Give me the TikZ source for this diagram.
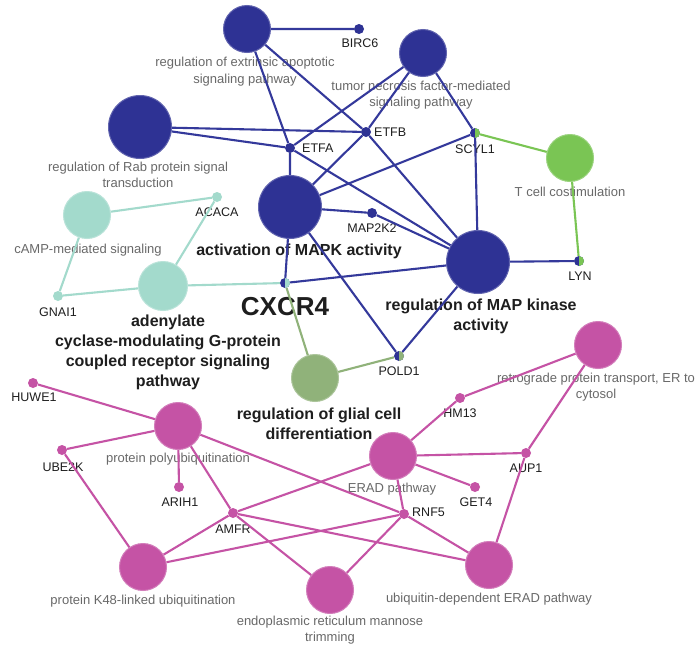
\documentclass[tikz,border=0pt]{standalone}
\usepackage{fontspec}
\setmainfont{Liberation Sans}
\definecolor{cblue}{RGB}{46,50,148}
\definecolor{cblueE}{RGB}{52,57,155}
\definecolor{cgreen}{RGB}{122,197,84}
\definecolor{cteal}{RGB}{163,218,204}
\definecolor{colive}{RGB}{144,178,122}
\definecolor{cmag}{RGB}{197,83,165}
\definecolor{cgray}{RGB}{105,105,105}
\definecolor{ctext}{RGB}{30,30,30}
\pgfdeclarelayer{bg}
\pgfdeclarelayer{lab}
\pgfdeclarelayer{edge}
\pgfsetlayers{bg,lab,edge,main}
\tikzset{
  big/.style={circle, inner sep=0pt, minimum size=47pt, fill=#1, draw=#1!75!white, line width=1pt},
  huge/.style={big=#1, minimum size=63pt},
  gene/.style={circle, inner sep=0pt, minimum size=10pt, fill=#1},
  halves/.style 2 args={circle, inner sep=0pt, minimum size=10pt, fill=#1,
    path picture={\fill[#2] (path picture bounding box.north) rectangle (path picture bounding box.south east);}},
  glab/.style={text=ctext, font=\fontsize{12.5}{14}\selectfont, inner sep=0pt},
  tlab/.style={text=cgray, font=\fontsize{13}{16.5}\selectfont, align=center, inner sep=0pt},
  blab/.style={text=ctext, font=\fontsize{16}{20}\selectfont\bfseries, align=center, inner sep=0pt},
  edgeline/.style={draw=#1, line width=2.1pt},
}
\begin{document}
\begin{tikzpicture}[x=1pt, y=-1pt]
\begin{pgfonlayer}{bg}
\useasboundingbox[fill=white] (0,0) rectangle (696,648);
\end{pgfonlayer}
% ---------- nodes ----------
% blue cluster
\node[big=cblue] (A1) at (247,29) {};
\node[gene=cblue] (BIRC6) at (359,29) {};
\node[big=cblue] (A2) at (423,53) {};
\node[huge=cblue] (A3) at (140,127) {};
\node[gene=cblue] (ETFA) at (290,148) {};
\node[gene=cblue] (ETFB) at (366,132) {};
\node[halves={cblue}{cgreen}] (SCYL1) at (475,133) {};
\node[big=cgreen] (TC) at (570,158) {};
\node[huge=cblue] (MAPK) at (290,207) {};
\node[gene=cblue] (MAP2K2) at (372,213) {};
\node[huge=cblue] (A5) at (478,262) {};
\node[halves={cblue}{cgreen}] (LYN) at (579,261) {};
\node[halves={cblue}{cteal}] (CXCR4) at (285,283) {};
% teal cluster
\node[big=cteal] (B1) at (87,215) {};
\node[gene=cteal] (ACACA) at (217,197) {};
\node[big=cteal, minimum size=49pt] (B2) at (163,286) {};
\node[gene=cteal] (GNAI1) at (58,296) {};
% olive
\node[big=colive] (C1) at (315,378) {};
\node[halves={cblue}{colive}] (POLD1) at (399,356) {};
% magenta cluster
\node[big=cmag] (D1) at (598,345) {};
\node[gene=cmag] (HM13) at (460,398) {};
\node[big=cmag] (D2) at (393,456) {};
\node[gene=cmag] (AUP1) at (526,453) {};
\node[gene=cmag] (GET4) at (475,487) {};
\node[gene=cmag] (RNF5) at (404,514) {};
\node[big=cmag] (D3) at (489,565) {};
\node[gene=cmag] (HUWE1) at (33,383) {};
\node[big=cmag] (D4) at (178,426) {};
\node[gene=cmag] (UBE2K) at (62,450) {};
\node[gene=cmag] (ARIH1) at (179,487) {};
\node[gene=cmag] (AMFR) at (233,513) {};
\node[big=cmag] (D5) at (143,567) {};
\node[big=cmag] (D6) at (330,590) {};
% ---------- labels ----------
\begin{pgfonlayer}{lab}
\node[glab] (lBIRC6) at (360,43) {BIRC6};
\node[glab, anchor=west] (lETFA) at (302,148) {ETFA};
\node[glab, anchor=west] (lETFB) at (374,132) {ETFB};
\node[glab] (lSCYL1) at (475,149) {SCYL1};
\node[glab] (lMAP2K2) at (372,228) {MAP2K2};
\node[glab] (lLYN) at (580,276) {LYN};
\node[glab] (lPOLD1) at (399,371) {POLD1};
\node[glab] (lACACA) at (217,212) {ACACA};
\node[glab] (lGNAI1) at (58,312) {GNAI1};
\node[glab] (lHM13) at (460,413) {HM13};
\node[glab] (lAUP1) at (526,468) {AUP1};
\node[glab] (lGET4) at (476,502) {GET4};
\node[glab, anchor=west] (lRNF5) at (412,512) {RNF5};
\node[glab] (lHUWE1) at (34,397) {HUWE1};
\node[glab] (lUBE2K) at (63,467) {UBE2K};
\node[glab] (lARIH1) at (180,502) {ARIH1};
\node[glab] (lAMFR) at (233,529) {AMFR};
\node[tlab] (lA1) at (245,71.5) {regulation of extrinsic apoptotic\\signaling pathway};
\node[tlab] (lA2) at (421,95) {tumor necrosis factor-mediated\\signaling pathway};
\node[tlab] (lA3) at (138,175) {regulation of Rab protein signal\\transduction};
\node[tlab] (lTC) at (570,192) {T cell costimulation};
\node[tlab] (lB1) at (88,250) {cAMP-mediated signaling};
\node[tlab] (lD1) at (596,387) {retrograde protein transport, ER to\\cytosol};
\node[tlab] (lD2) at (392,489) {ERAD pathway};
\node[tlab] (lD3) at (489,599) {ubiquitin-dependent ERAD pathway};
\node[tlab] (lD4) at (178,459) {protein polyubiquitination};
\node[tlab] (lD5) at (143,601) {protein K48-linked ubiquitination};
\node[tlab] (lD6) at (330,630) {endoplasmic reticulum mannose\\trimming};
\node[blab] (lMAPK) at (299,251) {activation of MAPK activity};
\node[blab] (lA5) at (481,316) {regulation of MAP kinase\\activity};
\node[blab] (lB2) at (168,352.5) {adenylate\\cyclase-modulating G-protein\\coupled receptor signaling\\pathway};
\node[blab] (lC1) at (319,423.5) {regulation of glial cell\\differentiation};
\node[text=ctext, font=\fontsize{26}{30}\selectfont\bfseries, inner sep=0pt] (lCXCR4) at (285,307) {CXCR4};
\end{pgfonlayer}
% ---------- edges ----------
\begin{pgfonlayer}{edge}
\path[edgeline=cblueE]
  (A1) -- (BIRC6)  (A1) -- (ETFA)  (A1) -- (ETFB)
  (A2) -- (ETFA)  (A2) -- (ETFB)  (A2) -- (SCYL1)
  (A3) -- (ETFA)  (A3) -- (ETFB)
  (ETFA) -- (MAPK)  (ETFA) -- (A5)
  (ETFB) -- (MAPK)  (ETFB) -- (A5)
  (SCYL1) -- (MAPK)  (SCYL1) -- (A5)
  (MAPK) -- (MAP2K2)  (MAP2K2) -- (A5)
  (MAPK) -- (CXCR4)  (MAPK) -- (POLD1)
  (CXCR4) -- (A5)  (A5) -- (LYN)  (A5) -- (POLD1);
\path[edgeline=cgreen] (SCYL1) -- (TC)  (TC) -- (LYN);
\path[edgeline=cteal]
  (B1) -- (ACACA)  (B1) -- (GNAI1)  (B2) -- (ACACA)  (B2) -- (GNAI1)  (B2) -- (CXCR4);
\path[edgeline=colive] (CXCR4) -- (C1)  (C1) -- (POLD1);
\path[edgeline=cmag]
  (HUWE1) -- (D4)  (D4) -- (UBE2K)  (D4) -- (ARIH1)  (D4) -- (AMFR)  (D4) -- (RNF5)
  (UBE2K) -- (D5)  (AMFR) -- (D5)  (AMFR) -- (D2)  (AMFR) -- (D6)  (AMFR) -- (D3)
  (D5) -- (RNF5)  (RNF5) -- (D6)  (RNF5) -- (D3)  (D2) -- (RNF5)
  (D2) -- (HM13)  (D2) -- (AUP1)  (D2) -- (GET4)
  (HM13) -- (D1)  (D1) -- (AUP1)  (AUP1) -- (D3);
\end{pgfonlayer}
\end{tikzpicture}
\end{document}
